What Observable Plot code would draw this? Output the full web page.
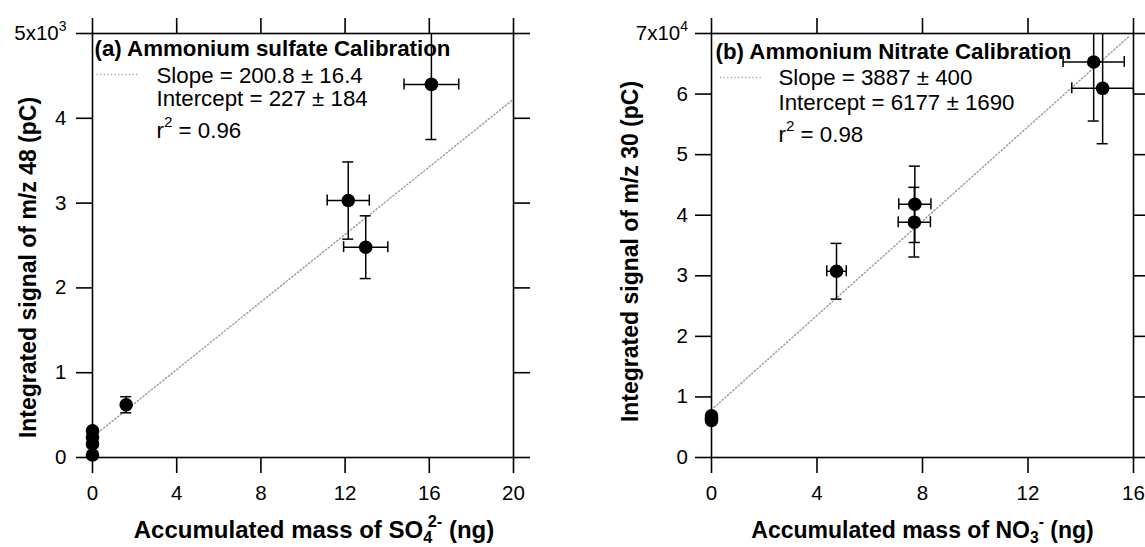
<!DOCTYPE html>
<html><head><meta charset="utf-8">
<script src="https://cdn.jsdelivr.net/npm/d3@7"></script>
<script src="https://cdn.jsdelivr.net/npm/@observablehq/plot@0.6"></script>
<style>
html,body{margin:0;padding:0;background:#fff;}
#wrap{position:relative;width:1145px;height:547px;overflow:hidden;background:#fff;}
#wrap svg{position:absolute;top:0;overflow:visible;}
</style></head><body><div id="wrap"></div>
<script>
// ---------- Panel (a): ammonium sulfate ----------
const sulfateMass       = [0, 0, 0, 0, 1.6, 12.15, 12.98, 16.1];
const sulfateMassErr    = [0, 0, 0, 0, 0, 1.0, 1.05, 1.3];
const sulfateSignal     = [30, 160, 240, 315, 622, 3030, 2480, 4400];
const sulfateSignalErr  = [0, 0, 0, 0, 95, 455, 370, 650];
const sulfateFitX       = [0, 20];
const sulfateFitY       = [240, 4225];
const sulfateTicksX     = [0, 4, 8, 12, 16, 20];
const sulfateTicksY     = [0, 1000, 2000, 3000, 4000, 5000];
const sulfateTickLabelsY = ["0", "1", "2", "3", "4", "5x10^{3}"];
const sulfateTexts = ["(a) Ammonium sulfate Calibration", "Slope = 200.8 ± 16.4", "Intercept = 227 ± 184", "r^{2} = 0.96"];
const sulfateXLabel = "Accumulated mass of SO_{4}^{2-} (ng)";
const sulfateYLabel = "Integrated signal of m/z 48 (pC)";

// ---------- Panel (b): ammonium nitrate ----------
const nitrateMass       = [0, 0, 0, 4.74, 7.71, 7.69, 14.49, 14.83];
const nitrateMassErr    = [0, 0, 0, 0.37, 0.61, 0.61, 1.16, 1.17];
const nitrateSignal     = [6100, 6500, 6900, 30750, 41800, 38850, 65300, 60950];
const nitrateSignalErr  = [0, 0, 0, 4600, 6300, 5750, 9750, 9150];
const nitrateFitX       = [0.1, 15.85];
const nitrateFitY       = [8270, 69600];
const nitrateTicksX     = [0, 4, 8, 12, 16];
const nitrateTicksY     = [0, 10000, 20000, 30000, 40000, 50000, 60000, 70000];
const nitrateTickLabelsY = ["0", "1", "2", "3", "4", "5", "6", "7x10^{4}"];
const nitrateTexts = ["(b) Ammonium Nitrate Calibration", "Slope = 3887 ± 400", "Intercept = 6177 ± 1690", "r^{2} = 0.98"];
const nitrateXLabel = "Accumulated mass of NO_{3}^{-} (ng)";
const nitrateYLabel = "Integrated signal of m/z 30 (pC)";

const FONT = "'Liberation Sans', Arial, Helvetica, sans-serif";

function panel(o) {
  const pts = o.x.map((x, i) => ({x, y: o.y[i], ex: o.ex[i], ey: o.ey[i]}));
  const fit = o.fitX.map((x, i) => ({x, y: o.fitY[i]}));
  const withEy = pts.filter(d => d.ey > 0);
  const withEx = pts.filter(d => d.ex > 0);
  const eb = {stroke: "black", strokeWidth: 1.5, clip: true};
  const tickLab = new Map(o.yTicks.map((t, i) => [t, o.yTickLabels[i]]));
  const swatch = {draw(ctx) { ctx.moveTo(-o.swatchLen / 2, 0); ctx.lineTo(o.swatchLen / 2, 0); }};
  const txt = (s, extra) => Plot.text([s], {text: d => d, frameAnchor: "top-left", textAnchor: "start", lineAnchor: "bottom", fontSize: 22.3, fill: "black", ...extra});
  return Plot.plot({
    width: o.width, height: 547,
    marginLeft: o.ml, marginRight: o.mr, marginTop: 33, marginBottom: 90,
    x: {domain: o.xDomain}, y: {domain: o.yDomain},
    style: {fontFamily: FONT, fontSize: "20px", color: "black", background: "white", overflow: "visible"},
    marks: [
      Plot.line(fit, {x: "x", y: "y", stroke: "#a0a0a0", strokeWidth: 1.5, strokeDasharray: "1.2,2.4"}),
      Plot.ruleX(withEy, {x: "x", y1: d => d.y - d.ey, y2: d => d.y + d.ey, ...eb}),
      Plot.ruleY(withEy, {y: d => d.y + d.ey, x1: "x", x2: "x", insetLeft: -5.5, insetRight: -5.5, ...eb}),
      Plot.ruleY(withEy, {y: d => d.y - d.ey, x1: "x", x2: "x", insetLeft: -5.5, insetRight: -5.5, ...eb}),
      Plot.ruleY(withEx, {y: "y", x1: d => d.x - d.ex, x2: d => d.x + d.ex, ...eb}),
      Plot.ruleX(withEx, {x: d => d.x - d.ex, y1: "y", y2: "y", insetTop: -5.5, insetBottom: -5.5, ...eb}),
      Plot.ruleX(withEx, {x: d => d.x + d.ex, y1: "y", y2: "y", insetTop: -5.5, insetBottom: -5.5, ...eb}),
      Plot.dot(pts, {x: "x", y: "y", r: 6.8, fill: "black", stroke: "none"}),
      Plot.frame({stroke: "black", strokeWidth: 1.6}),
      Plot.axisX({anchor: "bottom", ticks: o.xTicks, tickSize: 16, tickPadding: 12, label: null, strokeWidth: 1.6, fontSize: 20.5}),
      Plot.axisX({anchor: "top", ticks: o.xTicks, tickSize: 16, tickFormat: () => "", label: null, strokeWidth: 1.6}),
      Plot.axisY({anchor: "left", ticks: o.yTicks, tickSize: 16, tickPadding: o.yPad, tickFormat: d => tickLab.get(d), label: null, strokeWidth: 1.6, fontSize: 20.5}),
      Plot.axisY({anchor: "right", ticks: o.yTicks, tickSize: 16, tickFormat: () => "", label: null, strokeWidth: 1.6}),
      txt(o.texts[0], {dx: o.t.tx, dy: o.t.ty, fontWeight: "bold"}),
      Plot.dot([0], {frameAnchor: "top-left", dx: o.t.sx, dy: o.t.sy, symbol: swatch, r: 5, fill: "none", stroke: "#a0a0a0", strokeWidth: 1.5, strokeDasharray: "1.2,2.4"}),
      txt(o.texts[1], {dx: o.t.lx, dy: o.t.l1}),
      txt(o.texts[2], {dx: o.t.lx, dy: o.t.l2}),
      txt(o.texts[3], {dx: o.t.lx, dy: o.t.l3}),
      Plot.text([o.xLabel], {text: d => d, frameAnchor: "bottom", dx: o.xl.dx, dy: 80, lineAnchor: "bottom", textAnchor: "middle", fontSize: o.xl.fs, fontWeight: "bold", fill: "black"}),
      Plot.text([o.yLabel], {text: d => d, frameAnchor: "left", rotate: -90, dx: o.yl.dx, dy: o.yl.dy, lineAnchor: "middle", textAnchor: "middle", fontSize: 23, fontWeight: "bold", fill: "black"})
    ]
  });
}

// turn ^{..} / _{..} markup into real superscript / subscript tspans
function richify(svg) {
  const NS = "http://www.w3.org/2000/svg";
  svg.querySelectorAll("text").forEach(t => {
    const s = t.textContent;
    if (!/[\^_]\{/.test(s)) return;
    const fs = parseFloat(getComputedStyle(t).fontSize);
    const parts = s.split(/([\^_]\{[^}]*\})/).filter(p => p !== "");
    while (t.firstChild) t.removeChild(t.firstChild);
    let cur = 0, prev = null;
    for (const p of parts) {
      const ts = document.createElementNS(NS, "tspan");
      let target = 0, content = p, kind = "n";
      if (p.startsWith("^{")) { kind = "sup"; target = -0.45 * fs; content = p.slice(2, -1); }
      else if (p.startsWith("_{")) { kind = "sub"; target = 0.22 * fs; content = p.slice(2, -1); }
      ts.textContent = content;
      if (kind !== "n") ts.setAttribute("font-size", (0.68 * fs).toFixed(2));
      if (target !== cur) ts.setAttribute("dy", (target - cur).toFixed(2));
      t.appendChild(ts);
      if (kind === "sup" && prev && prev.kind === "sub" && content.length > 1) {
        ts.setAttribute("dx", (-0.5 * prev.el.getComputedTextLength()).toFixed(2));
      }
      prev = {kind, el: ts};
      cur = target;
    }
  });
}

const wrap = document.getElementById("wrap");

const a = panel({
  width: 572, ml: 92, mr: 59,
  x: sulfateMass, y: sulfateSignal, ex: sulfateMassErr, ey: sulfateSignalErr,
  fitX: sulfateFitX, fitY: sulfateFitY,
  xDomain: [0, 20], yDomain: [0, 5000], xTicks: sulfateTicksX, yTicks: sulfateTicksY, yTickLabels: sulfateTickLabelsY,
  yPad: 10, texts: sulfateTexts, xLabel: sulfateXLabel, yLabel: sulfateYLabel,
  swatchLen: 42,
  t: {tx: 2, ty: 22, sx: 25, sy: 41, lx: 64, l1: 49, l2: 72, l3: 104},
  xl: {dx: 11, fs: 24},
  yl: {dx: -64, dy: 22}
});
a.style.left = "0px";
wrap.appendChild(a);
richify(a);

const b = panel({
  width: 573, ml: 139, mr: 12,
  x: nitrateMass, y: nitrateSignal, ex: nitrateMassErr, ey: nitrateSignalErr,
  fitX: nitrateFitX, fitY: nitrateFitY,
  xDomain: [0, 16], yDomain: [0, 70000], xTicks: nitrateTicksX, yTicks: nitrateTicksY, yTickLabels: nitrateTickLabelsY,
  yPad: 7.5, texts: nitrateTexts, xLabel: nitrateXLabel, yLabel: nitrateYLabel,
  swatchLen: 41,
  t: {tx: 4, ty: 25, sx: 29, sy: 44, lx: 67, l1: 51, l2: 76, l3: 108},
  xl: {dx: 0, fs: 23},
  yl: {dx: -81, dy: 6}
});
b.style.left = "572px";
wrap.appendChild(b);
richify(b);
</script>
</body></html>
